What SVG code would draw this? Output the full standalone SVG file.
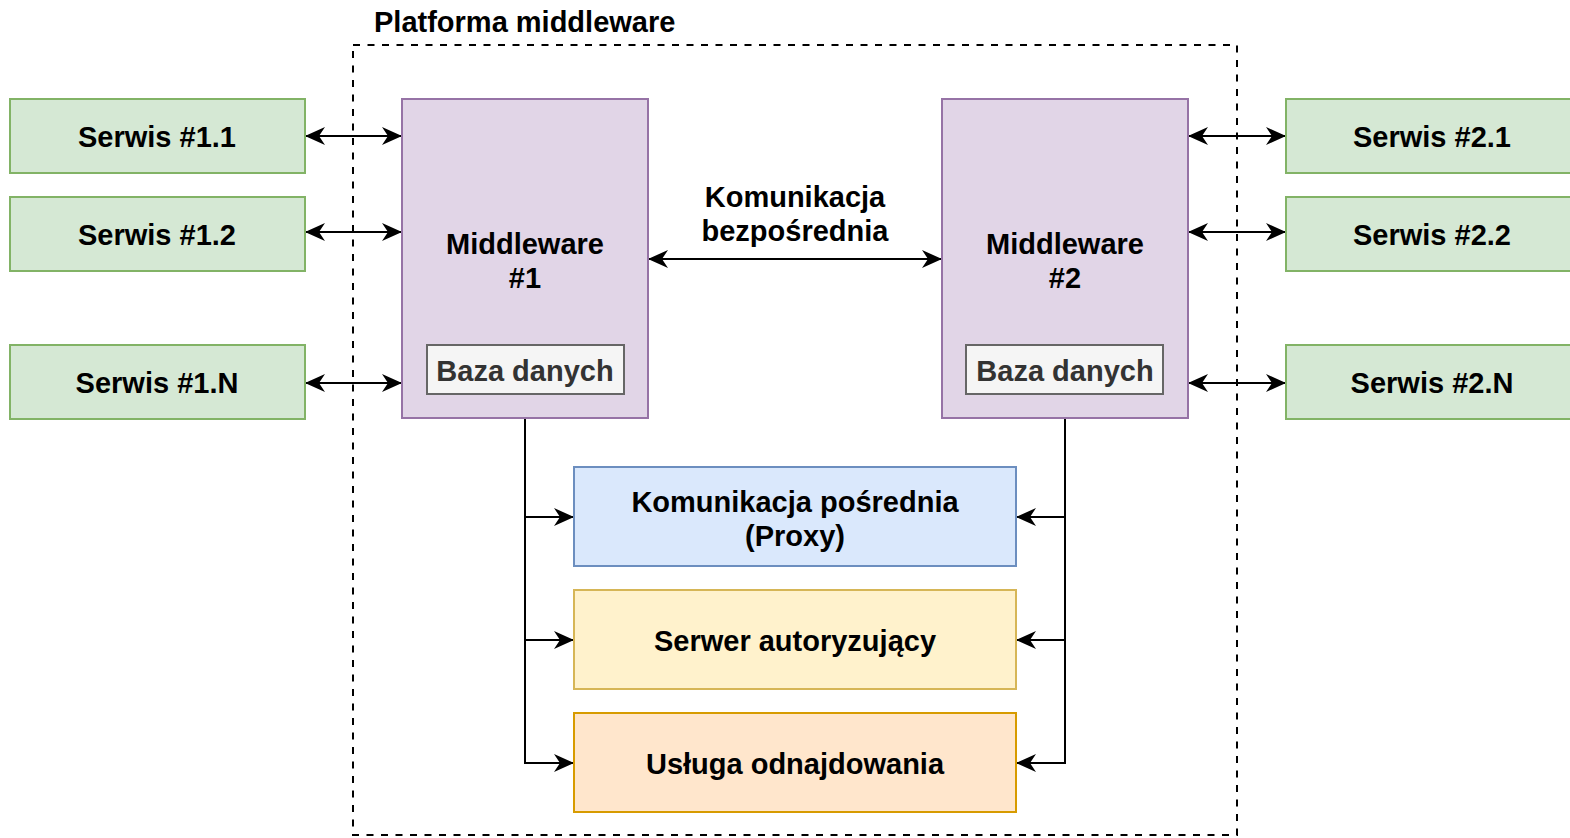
<svg xmlns="http://www.w3.org/2000/svg" width="1570" height="838" viewBox="0 0 1570 838">
<style>
text{font-family:"Liberation Sans",Arial,sans-serif;font-weight:bold;font-size:29px;fill:#000;text-anchor:middle;dominant-baseline:central}
.svc{fill:#d5e8d4;stroke:#82b366;stroke-width:2}
.mw{fill:#e1d5e7;stroke:#9673a6;stroke-width:2}
.db{fill:#f5f5f5;stroke:#666;stroke-width:2}
.db+text{fill:#333}
.ln{fill:none;stroke:#000;stroke-width:2}
</style>
<defs>
<marker id="ah" viewBox="0 0 20 18" refX="19" refY="9" markerWidth="20" markerHeight="18" markerUnits="userSpaceOnUse" orient="auto-start-reverse">
<path d="M0,0 L20,9 L0,18 L6,9 Z" fill="#000"/>
</marker>
</defs>
<g id="platform">
<rect x="353" y="45" width="884" height="790" fill="none" stroke="#000" stroke-width="2" stroke-dasharray="7,7.5"/>
<text x="374" y="22" style="text-anchor:start">Platforma middleware</text>
</g>
<g id="connectors">
<line class="ln" x1="306" y1="136" x2="401" y2="136" marker-start="url(#ah)" marker-end="url(#ah)"/>
<line class="ln" x1="306" y1="232" x2="401" y2="232" marker-start="url(#ah)" marker-end="url(#ah)"/>
<line class="ln" x1="306" y1="383" x2="401" y2="383" marker-start="url(#ah)" marker-end="url(#ah)"/>
<line class="ln" x1="1189" y1="136" x2="1285" y2="136" marker-start="url(#ah)" marker-end="url(#ah)"/>
<line class="ln" x1="1189" y1="232" x2="1285" y2="232" marker-start="url(#ah)" marker-end="url(#ah)"/>
<line class="ln" x1="1189" y1="383" x2="1285" y2="383" marker-start="url(#ah)" marker-end="url(#ah)"/>
<line class="ln" x1="649" y1="259" x2="941" y2="259" marker-start="url(#ah)" marker-end="url(#ah)"/>
<text x="795" y="197">Komunikacja</text>
<text x="795" y="231">bezpośrednia</text>
<polyline class="ln" points="525,419 525,763 573,763" marker-end="url(#ah)"/>
<polyline class="ln" points="525,517 573,517" marker-end="url(#ah)"/>
<polyline class="ln" points="525,640 573,640" marker-end="url(#ah)"/>
<polyline class="ln" points="1065,419 1065,763 1017,763" marker-end="url(#ah)"/>
<polyline class="ln" points="1065,517 1017,517" marker-end="url(#ah)"/>
<polyline class="ln" points="1065,640 1017,640" marker-end="url(#ah)"/>
</g>
<g id="s11"><rect class="svc" x="10" y="99" width="295" height="74"/><text x="157" y="137">Serwis #1.1</text></g>
<g id="s12"><rect class="svc" x="10" y="197" width="295" height="74"/><text x="157" y="235">Serwis #1.2</text></g>
<g id="s1n"><rect class="svc" x="10" y="345" width="295" height="74"/><text x="157" y="383">Serwis #1.N</text></g>
<g id="s21"><rect class="svc" x="1286" y="99" width="295" height="74"/><text x="1432" y="137">Serwis #2.1</text></g>
<g id="s22"><rect class="svc" x="1286" y="197" width="295" height="74"/><text x="1432" y="235">Serwis #2.2</text></g>
<g id="s2n"><rect class="svc" x="1286" y="345" width="295" height="74"/><text x="1432" y="383">Serwis #2.N</text></g>
<g id="mw1">
<rect class="mw" x="402" y="99" width="246" height="319"/>
<text x="525" y="244">Middleware</text>
<text x="525" y="278">#1</text>
<rect class="db" x="427" y="345" width="197" height="49"/><text x="525" y="371">Baza danych</text>
</g>
<g id="mw2">
<rect class="mw" x="942" y="99" width="246" height="319"/>
<text x="1065" y="244">Middleware</text>
<text x="1065" y="278">#2</text>
<rect class="db" x="966" y="345" width="197" height="49"/><text x="1065" y="371">Baza danych</text>
</g>
<g id="proxy"><rect x="574" y="467" width="442" height="99" fill="#dae8fc" stroke="#6c8ebf" stroke-width="2"/><text x="795" y="502">Komunikacja pośrednia</text><text x="795" y="536">(Proxy)</text></g>
<g id="auth"><rect x="574" y="590" width="442" height="99" fill="#fff2cc" stroke="#d6b656" stroke-width="2"/><text x="795" y="641">Serwer autoryzujący</text></g>
<g id="discovery"><rect x="574" y="713" width="442" height="99" fill="#ffe6cc" stroke="#d79b00" stroke-width="2"/><text x="795" y="764">Usługa odnajdowania</text></g>
</svg>
